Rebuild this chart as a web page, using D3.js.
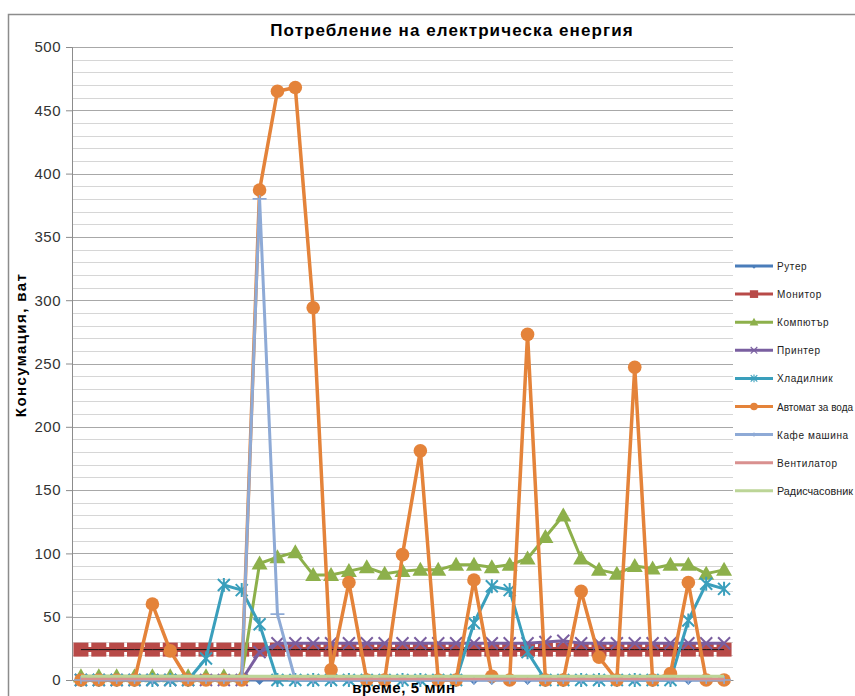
<!DOCTYPE html>
<html><head><meta charset="utf-8">
<script src="https://cdn.jsdelivr.net/npm/d3@7"></script>
<style>body{margin:0;background:#fff}svg{display:block}</style>
</head><body>
<svg id="c" width="855" height="696"></svg>
<script>
// ---- data ----
const categories = ["1","2","3","4","5","6","7","8","9","10","11","12","13","14","15","16","17","18","19","20","21","22","23","24","25","26","27","28","29","30","31","32","33","34","35","36","37"];
const yTicks = [0,50,100,150,200,250,300,350,400,450,500];
const seriesNames = ["Рутер","Монитор","Компютър","Принтер","Хладилник","Автомат за вода","Кафе машина","Вентилатор","Радисчасовник"];
const router   = [0,0,0,0,0,0,0,0,0,0,0,0,0,0,0,0,0,0,0,0,0,0,0,0,0,0,0,0,0,0,0,0,0,0,0,0,0];
const monitor  = [24,24,24,24,24,24,24,24,24,24,24,24,24,24,24,24,24,24,24,24,24,24,24,24,24,24,24,24,24,24,24,24,24,24,24,24,24];
const computer = [3,3,3,3,3,3,3,3,3,3,92,97,101,83,83,86,89,84,86,87,87,91,91,89,91,96,113,130,96,87,84,90,88,91,91,84,87];
const printer  = [0,0,0,0,0,0,0,0,0,0,22,29,29,29,29,29,29,29,29,29,29,29,29,29,29,29,30,31,29,29,29,29,29,29,29,29,29];
const fridge   = [0,0,0,0,0,0,0,17,75,71,44,0,0,0,0,0,0,0,0,0,0,0,45,74,71,22,0,0,0,0,0,0,0,0,47,76,72];
const water    = [0,0,0,0,60,23,0,0,0,0,387,465,468,294,8,77,0,0,99,181,0,0,79,3,0,273,0,0,70,18,0,247,0,5,77,0,0];
const coffee   = [0,0,0,0,0,0,0,0,0,0,380,52,0,0,0,0,0,0,0,0,0,0,0,0,0,0,0,0,0,0,0,0,0,0,0,0,0];
const fan      = [1,1,1,1,1,1,1,1,1,1,1,1,1,1,1,1,1,1,1,1,1,1,1,1,1,1,1,1,1,1,1,1,1,1,1,1,1];
const radio    = [3,3,3,3,3,3,3,3,3,3,3,3,3,3,3,3,3,3,3,3,3,3,3,3,3,3,3,3,3,3,3,3,3,3,3,3,3];

const seriesValues = [router,monitor,computer,printer,fridge,water,coffee,fan,radio];
const colors  = ["#4a7dba","#b84a48","#8db04b","#7a5fa0","#3a9fbc","#e4833a","#8eaad6","#d9908f","#bcd597"];
const markers = ["dash","square","triangle","x","star","circle","plus","none","none"];

// ---- layout ----
const svg = d3.select("#c");
const L = 72, R = 733, T = 47, B = 680;
const FONT = "Liberation Sans, Arial, sans-serif";
const x = d3.scalePoint().domain(categories).range([L, R]).padding(0.5);
const y = d3.scaleLinear().domain([0, 500]).range([B, T]);

// frame
svg.append("path").attr("d","M8.5,696V14.5H855").attr("fill","none").attr("stroke","#8c8c8c").attr("stroke-width",1.5);

// gridlines
const minor = d3.range(10, 500, 10).filter(v => v % 50 !== 0);
svg.append("g").selectAll("line").data(minor).join("line")
  .attr("x1", L).attr("x2", R).attr("y1", d => Math.round(y(d))+0.5).attr("y2", d => Math.round(y(d))+0.5)
  .attr("stroke","#d6d6d6").attr("stroke-width",1.2);
svg.append("g").selectAll("line").data(yTicks.filter(v=>v>0)).join("line")
  .attr("x1", L).attr("x2", R).attr("y1", d => Math.round(y(d))+0.5).attr("y2", d => Math.round(y(d))+0.5)
  .attr("stroke","#a8a8a8").attr("stroke-width",1.2);

// y axis
const yAxis = d3.axisLeft(y).tickValues(yTicks).tickSize(6).tickPadding(5);
const gy = svg.append("g").attr("transform", `translate(${L},0)`).call(yAxis);
gy.select(".domain").attr("stroke","#8c8c8c");
gy.selectAll(".tick line").attr("stroke","#8c8c8c");
gy.selectAll(".tick text").attr("font-family",FONT).attr("font-size",15).attr("fill","#333").attr("letter-spacing",0.5);
// x axis (no labels)
const xAxis = d3.axisBottom(x).tickSize(0).tickFormat("");
const gx = svg.append("g").attr("transform", `translate(0,${B})`).call(xAxis);
gx.select(".domain").attr("stroke","#8c8c8c");

// marker drawing
function drawMarker(g, type, color, cx, cy) {
  if (type === "none") return;
  if (type === "square") {
    g.append("rect").attr("x", cx-7.5).attr("y", cy-7).attr("width",15).attr("height",14).attr("fill",color);
  } else if (type === "triangle") {
    g.append("path").attr("d", `M${cx},${cy-8}L${cx+8},${cy+6}L${cx-8},${cy+6}Z`).attr("fill",color);
  } else if (type === "circle") {
    g.append("circle").attr("cx",cx).attr("cy",cy).attr("r",6.8).attr("fill",color);
  } else if (type === "x") {
    g.append("path").attr("d", `M${cx-6},${cy-6}L${cx+6},${cy+6}M${cx-6},${cy+6}L${cx+6},${cy-6}`).attr("stroke",color).attr("stroke-width",2);
  } else if (type === "star") {
    g.append("path").attr("d", `M${cx-6},${cy-6}L${cx+6},${cy+6}M${cx-6},${cy+6}L${cx+6},${cy-6}M${cx},${cy-7}V${cy+7}`).attr("stroke",color).attr("stroke-width",2);
  } else if (type === "plus") {
    g.append("path").attr("d", `M${cx-7},${cy}H${cx+7}M${cx},${cy-4}V${cy+4}`).attr("stroke",color).attr("stroke-width",1.6);
  } else if (type === "dash") {
    g.append("path").attr("d", `M${cx-4},${cy+1}L${cx},${cy+5}L${cx+4},${cy+1}Z`).attr("fill",color);
  }
}

const line = d3.line().x((d,i) => x(categories[i])).y(d => y(d));
seriesValues.forEach((vals, si) => {
  const g = svg.append("g");
  const w = si === 1 ? 5 : (si === 5 ? 3.5 : 3);
  g.append("path").datum(vals).attr("d", line).attr("fill","none")
    .attr("stroke", colors[si]).attr("stroke-width", w).attr("stroke-linejoin","round");
  vals.forEach((v, i) => drawMarker(g, markers[si], colors[si], x(categories[i]), y(v)));
  if (si === 1) {
    g.append("path").datum(vals).attr("d", line).attr("fill","none").attr("stroke","#111").attr("stroke-width",1);
  }
});

// title
svg.append("text").attr("x", 452).attr("y", 36).attr("text-anchor","middle")
  .attr("font-family",FONT).attr("font-weight","bold").attr("font-size",17).attr("letter-spacing",1.1)
  .text("Потребление на електрическа енергия");
// axis titles
svg.append("text").attr("x", 404).attr("y", 693).attr("text-anchor","middle")
  .attr("font-family",FONT).attr("font-weight","bold").attr("font-size",15).attr("letter-spacing",0.6)
  .text("време, 5 мин");
svg.append("text").attr("transform","translate(26,345) rotate(-90)").attr("text-anchor","middle")
  .attr("font-family",FONT).attr("font-weight","bold").attr("font-size",15).attr("letter-spacing",1.4)
  .text("Консумация, ват");

// legend
const lg = svg.append("g");
seriesNames.forEach((name, i) => {
  const ly = 266 + i * 28.1;
  lg.append("line").attr("x1",735).attr("x2",773).attr("y1",ly).attr("y2",ly).attr("stroke",colors[i]).attr("stroke-width",3);
  const s = 0.55;
  const mg = lg.append("g").attr("transform",`translate(${754*(1-s)},${ly*(1-s)}) scale(${s})`);
  drawMarker(mg, markers[i], colors[i], 754, ly);
  const t = lg.append("text").attr("x",777).attr("y",ly+4).attr("font-family",FONT)
    .attr("font-size",10).attr("letter-spacing",0.6).attr("fill","#222").text(name);
  if (t.node().getComputedTextLength() > 76) {
    t.attr("letter-spacing",0).attr("textLength",76).attr("lengthAdjust","spacingAndGlyphs");
  }
});
</script>
</body></html>
